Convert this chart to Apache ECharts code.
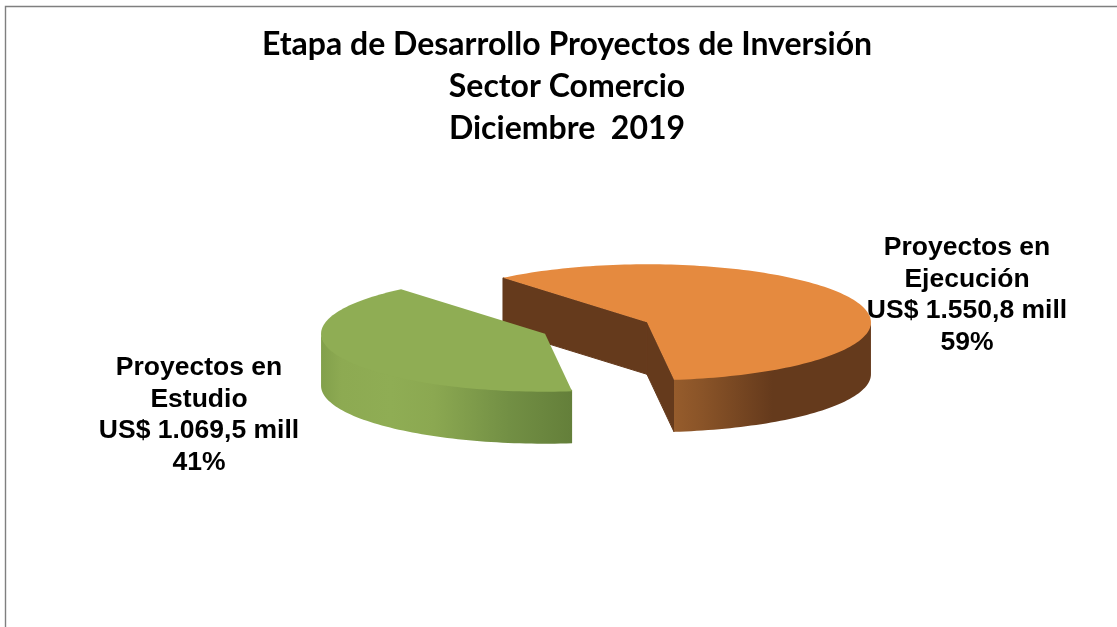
<!DOCTYPE html>
<html><head><meta charset="utf-8">
<style>html,body{margin:0;padding:0;background:#fff}#c{width:1117px;height:627px}</style>
<script src="https://cdn.jsdelivr.net/npm/echarts@6/dist/echarts.min.js"></script>
</head><body><div id="c"></div>
<script>
var titleLines = ['Etapa de Desarrollo Proyectos de Inversión', 'Sector Comercio', 'Diciembre  2019'];
var categories = ['Proyectos en Ejecución', 'Proyectos en Estudio'];
var values = [1550.8, 1069.5];
var percents = ['59%', '41%'];
var labelLines = [
  ['Proyectos en', 'Ejecución', 'US$ 1.550,8 mill', '59%'],
  ['Proyectos en', 'Estudio', 'US$ 1.069,5 mill', '41%']
];
var topColors = ['#E58A3F', '#8FAD54'];

// projection of the tilted, exploded pie
var RX = 224, RY = 58, DEPTH = 52, CX = 596, CY = 328, EXPLODE = 0.248, START = -40;
var LABELX = [967, 199], LABELY = [248, 368];
var total = values.reduce(function (a, b) { return a + b; }, 0);

function rad(d) { return d * Math.PI / 180; }
function arc(c, a0, a1, dy) {
  var pts = [], n = Math.max(2, Math.ceil(Math.abs(a1 - a0) / 1.5));
  for (var i = 0; i <= n; i++) {
    var a = rad(a0 + (a1 - a0) * i / n);
    pts.push([c[0] + RX * Math.sin(a), c[1] - RY * Math.cos(a) + dy]);
  }
  return pts;
}
function wallFill(stops, x0, x1) {
  return { type: 'linear', x: x0, y: 0, x2: x1, y2: 0, global: true, colorStops: stops };
}
function renderSlice(params, api) {
  var i = params.dataIndex, before = 0;
  for (var k = 0; k < i; k++) before += values[k];
  var a0 = START + before / total * 360, a1 = a0 + api.value(0) / total * 360;
  var mid = rad((a0 + a1) / 2);
  var c = [CX + EXPLODE * RX * Math.sin(mid), CY - EXPLODE * RY * Math.cos(mid)];
  var children = [];
  function poly(points, fill, stroke) {
    children.push({ type: 'polygon', shape: { points: points },
      style: { fill: fill, stroke: stroke || null, lineWidth: stroke ? 1 : 0 } });
  }
  var apexLow = [c[0], c[1] + DEPTH];
  var p0 = arc(c, a0, a0, 0)[0], p1 = arc(c, a1, a1, 0)[0];
  if (i === 0) {
    poly([p0, c, apexLow, [p0[0], p0[1] + DEPTH]], '#653A1C', '#653A1C');
    poly([c, p1, [p1[0], p1[1] + DEPTH], apexLow], '#653A1C', '#653A1C');
    var w = arc(c, 90, a1, -1.5);
    poly(w.concat(arc(c, a1, 90, DEPTH)), wallFill([
      { offset: 0, color: '#653A1C' }, { offset: 0.5, color: '#653A1C' },
      { offset: 0.86, color: '#8A5428' }, { offset: 1, color: '#965C2C' }
    ], c[0] + RX, p1[0]));
  } else {
    var w2 = arc(c, a0, 270, -1.5);
    poly(w2.concat(arc(c, 270, a0, DEPTH)), wallFill([
      { offset: 0, color: '#647F3A' }, { offset: 0.25, color: '#728F44' },
      { offset: 0.55, color: '#8BA851' }, { offset: 0.72, color: '#8FAD54' },
      { offset: 0.92, color: '#8DAA52' }, { offset: 1, color: '#82A04B' }
    ], p0[0], c[0] - RX));
  }
  poly([c].concat(arc(c, a0, a1, 0)), topColors[i]);
  labelLines[i].forEach(function (t, j) {
    children.push({ type: 'text', z2: 10, style: {
      x: LABELX[i], y: LABELY[i] + j * 31.5, text: t, align: 'center', verticalAlign: 'middle',
      font: 'bold 26.5px "Liberation Sans", Arial, sans-serif', fill: '#000'
    }});
  });
  return { type: 'group', children: children };
}
var chart = echarts.init(document.getElementById('c'), null, { renderer: 'canvas' });
chart.setOption({
  animation: false,
  backgroundColor: '#fff',
  title: titleLines.map(function (t, i) {
    return { text: t, left: 562, top: 24 + i * 42, textAlign: 'center',
      textStyle: { fontFamily: 'Lato', fontWeight: 'bold', fontSize: 32, color: '#000' } };
  }),
  graphic: [{ type: 'polyline', silent: true, shape: { points: [[5.5, 627], [5.5, 6.5], [1117, 6.5]] },
    style: { stroke: '#7F7F7F', lineWidth: 1.4, fill: null } }],
  series: [{
    type: 'custom', coordinateSystem: 'none', silent: true,
    data: categories.map(function (n, i) { return { name: n, value: [values[i], percents[i]] }; }),
    renderItem: renderSlice
  }]
});
</script></body></html>
